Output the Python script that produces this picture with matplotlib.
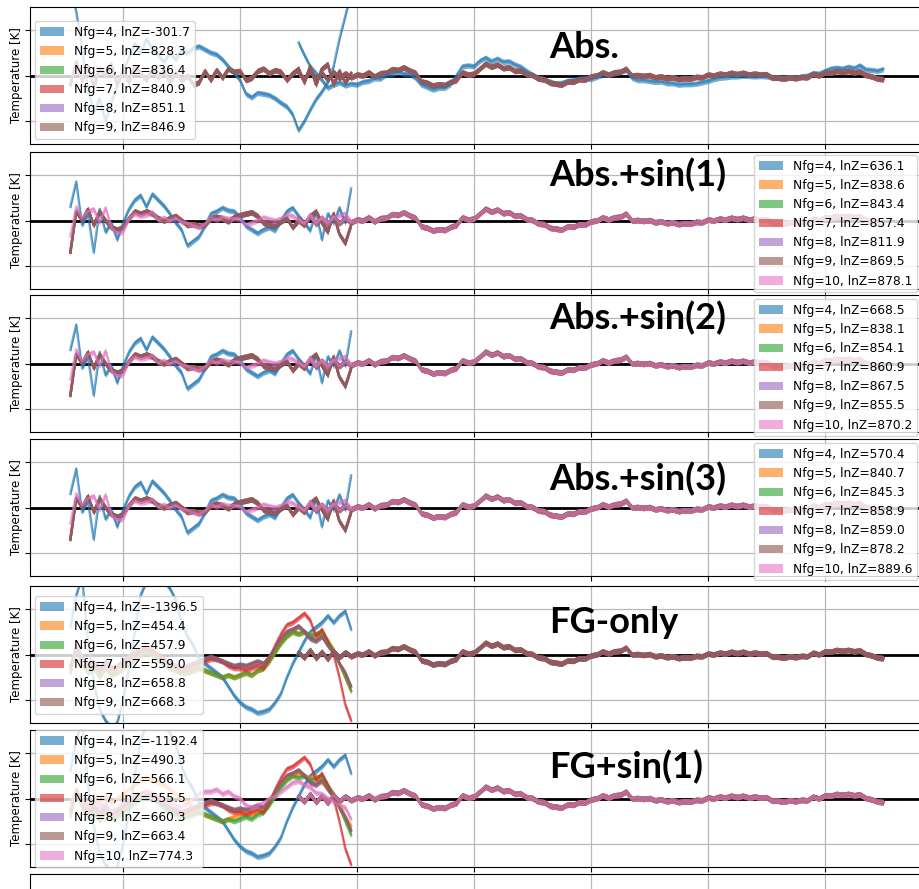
import numpy as np
import matplotlib.pyplot as plt

# frequency channels of the two bands (MHz)
freq_lo = np.arange(51, 100)
freq_hi = np.arange(90, 191)

nfg = [4, 5, 6, 7, 8, 9, 10]

lnz_abs = [-301.7, 828.3, 836.4, 840.9, 851.1, 846.9]
lnz_sin1 = [636.1, 838.6, 843.4, 857.4, 811.9, 869.5, 878.1]
lnz_sin2 = [668.5, 838.1, 854.1, 860.9, 867.5, 855.5, 870.2]
lnz_sin3 = [570.4, 840.7, 845.3, 858.9, 859.0, 878.2, 889.6]
lnz_fg = [-1396.5, 454.4, 457.9, 559.0, 658.8, 668.3]
lnz_fg_sin1 = [-1192.4, 490.3, 566.1, 555.5, 660.3, 663.4, 774.3]

titles = ["Abs.", "Abs.+sin(1)", "Abs.+sin(2)", "Abs.+sin(3)", "FG-only", "FG+sin(1)"]

# residuals, high band (90-190 MHz)
hi_common = [0.05, -0.07, 0.1, -0.08, 0.06, -0.1, 0.08, -0.06, 0.05, -0.04,
             0.02, 0.0, 0.07, -0.02, 0.05, 0.06, 0.14, 0.12, 0.18, 0.11,
             0.06, -0.13, -0.16, -0.22, -0.19, -0.21, -0.14, -0.1, 0.07, 0.02,
             0.04, 0.15, 0.26, 0.19, 0.24, 0.16, 0.18, 0.1, 0.11, 0.03,
             0.01, -0.07, -0.08, -0.16, -0.18, -0.2, -0.13, -0.14, -0.08, -0.09,
             -0.02, 0.0, 0.07, 0.02, 0.07, 0.08, 0.15, 0.0, 0.01, -0.01,
             0.01, -0.04, -0.02, -0.06, -0.04, -0.08, -0.06, -0.07, -0.03, -0.04,
             0.02, 0.0, 0.04, 0.02, 0.06, 0.03, 0.06, 0.02, 0.04, 0.02,
             0.03, -0.05, -0.05, -0.07, -0.04, -0.06, -0.03, -0.04, 0.04, 0.0,
             0.07, 0.06, 0.1, 0.08, 0.1, 0.07, 0.09, 0.01, -0.02, -0.07, -0.08]

abs_blue_hi = [0.72, 0.45, 0.2, 0.05, -0.1, -0.27, -0.2, -0.15, -0.22, -0.18,
               -0.2, -0.14, -0.12, -0.06, -0.07, 0.02, 0.03, 0.08, 0.04, 0.03,
               -0.05, -0.2, -0.25, -0.31, -0.27, -0.27, -0.19, 0.0, 0.2, 0.22,
               0.2, 0.32, 0.39, 0.31, 0.37, 0.3, 0.31, 0.24, 0.19, 0.1,
               0.02, -0.05, -0.1, -0.13, -0.18, -0.16, -0.12, -0.1, -0.07, -0.05,
               -0.08, -0.03, 0.02, 0.03, 0.04, 0.08, 0.12, -0.05, -0.1, -0.1,
               -0.12, -0.14, -0.13, -0.17, -0.17, -0.2, -0.19, -0.19, -0.18, -0.15,
               -0.12, -0.08, -0.05, -0.04, -0.02, -0.02, 0.0, -0.01, -0.02, -0.01,
               -0.02, -0.04, -0.05, -0.04, -0.05, -0.04, -0.03, 0.0, 0.05, 0.04,
               0.1, 0.15, 0.17, 0.15, 0.19, 0.16, 0.22, 0.13, 0.12, 0.1, 0.14]

# residuals, low band (51-99 MHz)
abs_blue_lo = [2.0, 1.4, 0.6, -0.3, -0.8, -0.5, -1.0, -0.6, -0.2, 0.1,
               0.4, 0.7, 0.5, 0.8, 0.6, 0.45, 0.3, 0.5, 0.35, 0.55,
               0.5, 0.6, 0.64, 0.57, 0.5, 0.46, 0.35, 0.2, 0.05, -0.1,
               -0.4, -0.48, -0.38, -0.4, -0.43, -0.5, -0.6, -0.68, -0.85, -1.2,
               -1.0, -0.75, -0.52, -0.35, -0.15, 0.2, 0.8, 1.3, 1.8]
abs_mix_lo = [-0.2, 0.3, -0.1, 0.2, -0.25, 0.15, 0.0, 0.25, -0.2, 0.1,
              -0.15, 0.2, 0.05, -0.1, 0.15, -0.05, 0.1, -0.15, 0.05, -0.1,
              0.0, -0.2, -0.15, 0.1, -0.1, 0.12, -0.05, 0.15, 0.08, 0.1,
              -0.1, -0.05, 0.1, 0.15, 0.05, 0.12, 0.08, -0.1, 0.05, 0.15,
              -0.15, 0.2, -0.2, 0.15, 0.25, -0.2, 0.1, -0.15, 0.05]

sin_blue_lo = [0.3, 0.85, -0.1, 0.15, -0.7, 0.25, -0.25, -0.05, -0.42, -0.05,
               0.25, 0.45, 0.55, 0.3, 0.58, 0.45, 0.32, 0.15, -0.05, -0.2,
               -0.55, -0.45, -0.35, -0.12, 0.15, 0.2, 0.28, 0.22, 0.2, 0.07,
               -0.12, -0.2, -0.28, -0.2, -0.15, -0.22, 0.0, 0.2, 0.28, 0.1,
               -0.05, -0.22, 0.2, -0.42, 0.15, -0.05, 0.28, -0.05, 0.7]
sin_mix_lo = [-0.7, 0.2, 0.0, 0.25, -0.1, 0.2, 0.0, -0.15, -0.2, -0.15,
              0.05, 0.2, 0.15, 0.2, 0.15, 0.05, 0.0, 0.05, 0.1, 0.0,
              -0.1, -0.08, -0.12, -0.1, 0.05, 0.08, 0.05, -0.02, 0.08, 0.12,
              0.15, 0.18, 0.1, -0.05, -0.1, -0.12, -0.02, 0.05, -0.15, 0.0,
              -0.1, 0.1, 0.2, -0.05, -0.25, 0.15, -0.3, -0.5, -0.1]
sin_pink_lo = [-0.35, 0.3, 0.05, 0.2, 0.25, -0.05, 0.28, -0.15, -0.28, -0.25,
               0.05, 0.15, 0.1, 0.12, 0.18, 0.02, 0.06, 0.0, 0.06, -0.03,
               -0.07, -0.1, -0.15, -0.08, 0.07, 0.02, 0.07, 0.04, 0.05, 0.03,
               -0.1, -0.05, 0.0, 0.07, 0.03, 0.0, 0.04, 0.12, 0.1, 0.0,
               -0.07, 0.14, -0.04, 0.07, -0.04, 0.08, 0.11, 0.15, -0.03]

fg_blue_lo = [0.6, 1.3, 1.7, 0.3, -0.6, -1.2, -1.45, -1.6, -1.5, -1.0,
              -0.3, 0.5, 1.3, 1.6, 1.7, 1.7, 1.6, 1.45, 1.2, 0.7,
              0.4, 0.2, -0.1, -0.2, -0.3, -0.4, -0.5, -0.7, -0.9, -1.05,
              -1.15, -1.2, -1.28, -1.25, -1.2, -1.05, -0.85, -0.5, -0.2, 0.05,
              0.3, 0.5, 0.6, 0.7, 0.85, 0.7, 0.85, 0.95, 0.55]
fg_green_lo = [-0.4, 0.1, -0.2, -0.4, -0.3, -0.5, -0.3, -0.45, -0.4, -0.3,
               -0.2, -0.1, 0.0, 0.05, 0.0, -0.1, -0.2, -0.3, -0.35, -0.4,
               -0.4, -0.35, -0.3, -0.35, -0.4, -0.45, -0.5, -0.45, -0.5, -0.45,
               -0.4, -0.45, -0.35, -0.3, -0.15, 0.05, 0.25, 0.4, 0.5, 0.45,
               0.5, 0.4, 0.45, 0.5, 0.3, 0.1, -0.2, -0.5, -0.8]
fg_red_lo = [-0.3, 0.2, -0.1, -0.3, -0.2, -0.4, -0.2, -0.35, -0.3, -0.2,
             -0.1, 0.0, 0.1, 0.15, 0.1, 0.0, -0.1, -0.2, -0.3, -0.35,
             -0.3, -0.25, -0.2, -0.15, -0.1, -0.1, -0.15, -0.25, -0.3, -0.3,
             -0.35, -0.3, -0.25, -0.3, -0.1, 0.2, 0.45, 0.65, 0.7, 0.8,
             0.9, 0.75, 0.4, 0.55, 0.3, 0.0, -0.5, -1.1, -1.45]
fg_brown_lo = [-0.25, 0.15, -0.05, -0.25, -0.15, -0.3, -0.15, -0.3, -0.25, -0.15,
               -0.05, 0.05, 0.1, 0.1, 0.05, -0.05, -0.15, -0.2, -0.25, -0.3,
               -0.25, -0.2, -0.15, -0.1, -0.05, -0.1, -0.15, -0.2, -0.25, -0.22,
               -0.25, -0.2, -0.15, -0.2, -0.05, 0.15, 0.35, 0.5, 0.55, 0.62,
               0.5, 0.35, 0.3, 0.4, 0.2, 0.05, -0.2, -0.4, -0.7]
fg1_orange_lo = [-0.1, 0.2, 0.0, -0.15, 0.0, -0.1, 0.05, -0.1, 0.0, 0.1,
                 0.2, 0.3, 0.4, 0.45, 0.4, 0.35, 0.3, 0.2, 0.1, 0.0,
                 -0.1, -0.2, -0.3, -0.35, -0.4, -0.45, -0.5, -0.45, -0.4, -0.35,
                 -0.3, -0.35, -0.3, -0.25, -0.1, 0.1, 0.3, 0.45, 0.5, 0.55,
                 0.5, 0.45, 0.5, 0.35, 0.25, 0.1, -0.1, -0.4, -0.6]
fg1_pink_lo = [-0.2, 0.1, -0.1, -0.2, 0.0, -0.2, -0.1, -0.3, -0.2, -0.1,
               0.0, 0.1, 0.05, 0.15, 0.1, 0.05, -0.05, -0.1, -0.15, -0.2,
               -0.1, 0.0, 0.1, 0.15, 0.15, 0.2, 0.1, 0.15, 0.05, 0.0,
               -0.15, -0.2, -0.15, -0.1, 0.0, 0.05, 0.15, 0.25, 0.35, 0.38,
               0.3, 0.25, 0.12, 0.1, 0.0, -0.06, -0.15, -0.2, -0.45]

panels = [
    (lnz_abs, [(abs_blue_lo, abs_blue_hi)] + [(abs_mix_lo, hi_common)] * 5),
    (lnz_sin1, [(sin_blue_lo, hi_common)] + [(sin_mix_lo, hi_common)] * 5
     + [(sin_pink_lo, hi_common)]),
    (lnz_sin2, [(sin_blue_lo, hi_common)] + [(sin_mix_lo, hi_common)] * 5
     + [(sin_pink_lo, hi_common)]),
    (lnz_sin3, [(sin_blue_lo, hi_common)] + [(sin_mix_lo, hi_common)] * 5
     + [(sin_pink_lo, hi_common)]),
    (lnz_fg, [(fg_blue_lo, hi_common), (fg_green_lo, hi_common), (fg_green_lo, hi_common),
              (fg_red_lo, hi_common), (fg_brown_lo, hi_common), (fg_brown_lo, hi_common)]),
    (lnz_fg_sin1, [(fg_blue_lo, hi_common), (fg1_orange_lo, hi_common), (fg_green_lo, hi_common),
                   (fg_red_lo, hi_common), (fg_brown_lo, hi_common), (fg_brown_lo, hi_common),
                   (fg1_pink_lo, hi_common)]),
]

W, H = 919, 889
fig = plt.figure(figsize=(W / 100, H / 100), dpi=100)

tops = [7, 152, 295, 439, 586, 730, 874]
panel_h = 137
# legend corner (px) and anchor side for each panel
legend_pos = [((35, 21), "upper left"), ((917, 155), "upper right"),
              ((917, 299), "upper right"), ((917, 443), "upper right"),
              ((35, 596), "upper left"), ((35, 730), "upper left")]
title_base = [58, 186, 329, 490, 633, 778]

for i, top in enumerate(tops):
    ax = fig.add_axes([30 / W, 1 - (top + panel_h) / H, 913 / W, panel_h / H])
    ax.set_zorder(10 - i)
    ax.set_xlim(44.1, 200.2)
    ax.set_ylim(-1.5, 1.5)
    ax.set_xticks(range(60, 200, 20))
    ax.set_yticks([-1, 0, 1])
    ax.tick_params(labelbottom=False, labelleft=False)
    ax.set_axisbelow(True)
    ax.grid(True, color="#b8b8b8", lw=0.9)
    if i == len(panels):
        continue

    ax.axhline(0, color="k", lw=2, zorder=0.8)
    lnz, series = panels[i]
    for k, (lo, hi) in enumerate(series):
        c = f"C{k}"
        lab = f"Nfg={nfg[k]}, lnZ={lnz[k]:.1f}"
        for f, t in ((freq_lo, lo), (freq_hi, hi)):
            t = np.asarray(t)
            ax.fill_between(f, t - 0.06, t + 0.06, color=c, alpha=0.6, lw=0, label=lab)
            ax.plot(f, t, color=c, lw=1.8, alpha=0.6)
            lab = None

    ax.set_ylabel("Temperature [K]", fontsize=8.5)
    ax.yaxis.set_label_coords(-0.008, 0.5)

    (lx, ly), loc = legend_pos[i]
    ax.legend(loc=loc, bbox_to_anchor=(lx / W, 1 - ly / H), bbox_transform=fig.transFigure,
              borderaxespad=0, fontsize=8.8)

    fig.text(549 / W, 1 - title_base[i] / H, titles[i], fontfamily="Lato",
             fontweight="bold", fontsize=26, va="baseline", zorder=50)

fig.savefig("out.png", dpi=100)
